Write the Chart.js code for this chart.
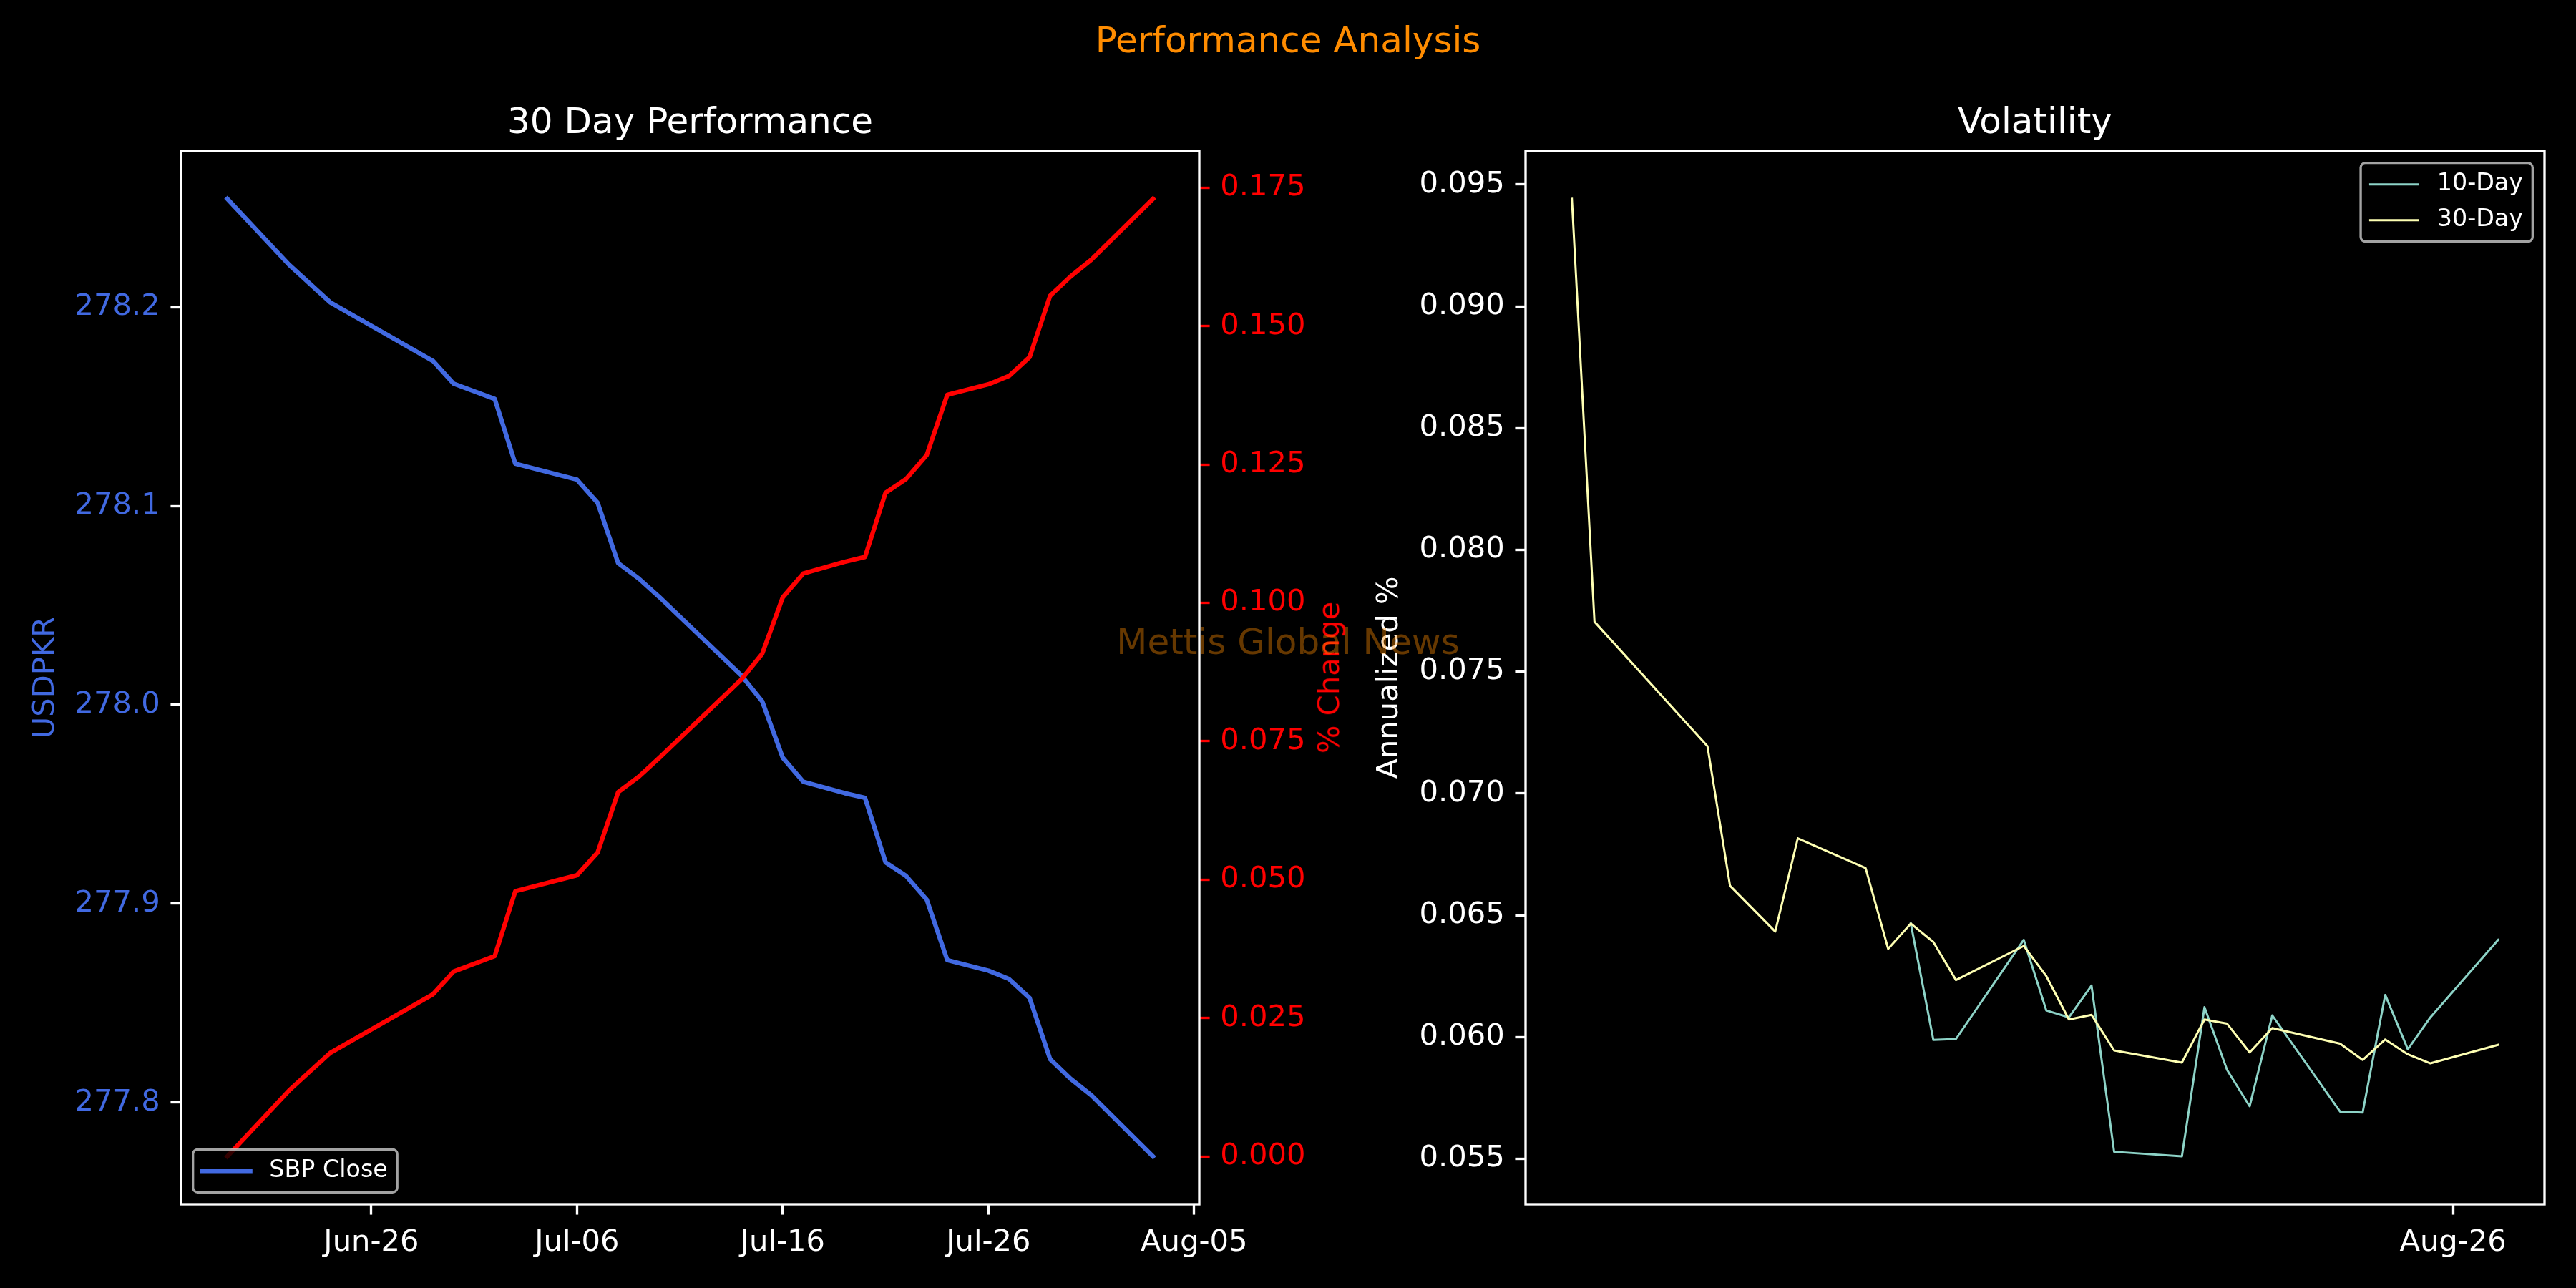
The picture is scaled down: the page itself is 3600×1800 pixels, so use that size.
<!DOCTYPE html>
<html>
<head>
<meta charset="utf-8">
<title>Performance Analysis</title>
<script src="https://cdn.jsdelivr.net/npm/chart.js@4.4.1/dist/chart.umd.min.js"></script>
<style>
  html, body { margin: 0; padding: 0; background: #000; }
  body { width: 3600px; height: 1800px; position: relative; overflow: hidden; font-family: 'DejaVu Sans', sans-serif; }
  canvas { position: absolute; top: 0; }
  #perf { left: 0; }
  #vol { left: 1878px; }
  .txt { position: absolute; white-space: nowrap; line-height: 1; }
  #suptitle { left: 0; width: 3600px; text-align: center; top: 31px; font-size: 50px; color: #ff8c00; }
  #pctLabel { left: 1857px; top: 947px; font-size: 41.67px; color: #ff0000; transform: translate(-50%, -50%) rotate(-90deg); }
  #watermark { left: 0; width: 3600px; text-align: center; top: 872px; font-size: 50px; color: rgba(255, 140, 0, 0.4); }
</style>
</head>
<body>
<canvas id="perf" width="1850" height="1800"></canvas>
<canvas id="vol" width="1722" height="1800"></canvas>
<div class="txt" id="pctLabel">% Change</div>
<div class="txt" id="suptitle">Performance Analysis</div>
<div class="txt" id="watermark">Mettis Global News</div>

<script>
// --- 30 day performance data ---
const perfDates = ['2024-06-19', '2024-06-22', '2024-06-24', '2024-06-29', '2024-06-30', '2024-07-02',
  '2024-07-03', '2024-07-06', '2024-07-07', '2024-07-08', '2024-07-09', '2024-07-10', '2024-07-14',
  '2024-07-15', '2024-07-16', '2024-07-17', '2024-07-19', '2024-07-20', '2024-07-21', '2024-07-22',
  '2024-07-23', '2024-07-24', '2024-07-26', '2024-07-27', '2024-07-28', '2024-07-29', '2024-07-30',
  '2024-07-31', '2024-08-03'];
const sbpClose = [278.2544, 278.2213, 278.2024, 278.1729, 278.1615, 278.1538, 278.1212, 278.1132,
  278.1016, 278.0712, 278.0635, 278.0542, 278.0146, 278.0018, 277.9734, 277.9613, 277.9556, 277.9532,
  277.9208, 277.9139, 277.9020, 277.8716, 277.8663, 277.8621, 277.8526, 277.8218, 277.8119, 277.8037,
  277.7729];
const pctChange = [0.0000, 0.0119, 0.0187, 0.0293, 0.0334, 0.0362, 0.0479, 0.0508, 0.0549, 0.0658,
  0.0686, 0.0720, 0.0862, 0.0908, 0.1010, 0.1053, 0.1074, 0.1083, 0.1199, 0.1224, 0.1267, 0.1376,
  0.1395, 0.1410, 0.1444, 0.1555, 0.1590, 0.1620, 0.1730];
const perfTickDates = ['2024-06-26', '2024-07-06', '2024-07-16', '2024-07-26', '2024-08-05'];
const perfTickLabels = ['Jun-26', 'Jul-06', 'Jul-16', 'Jul-26', 'Aug-05'];
const closeTicks = [277.8, 277.9, 278.0, 278.1, 278.2];
const pctTicks = [0, 0.025, 0.05, 0.075, 0.1, 0.125, 0.15, 0.175];

// --- volatility data ---
const volDates = ['2024-07-18', '2024-07-19', '2024-07-24', '2024-07-25', '2024-07-27', '2024-07-28',
  '2024-07-31', '2024-08-01', '2024-08-02', '2024-08-03', '2024-08-04', '2024-08-07', '2024-08-08',
  '2024-08-09', '2024-08-10', '2024-08-11', '2024-08-14', '2024-08-15', '2024-08-16', '2024-08-17',
  '2024-08-18', '2024-08-21', '2024-08-22', '2024-08-23', '2024-08-24', '2024-08-25', '2024-08-28'];
const vol10 = [null, null, null, null, null, null, null, null, 0.06466, 0.05988, 0.05992, 0.06399,
  0.06109, 0.06081, 0.06211, 0.05529, 0.05510, 0.06123, 0.05865, 0.05716, 0.06089, 0.05694, 0.05690,
  0.06173, 0.05950, 0.06081, 0.06399];
const vol30 = [0.09441, 0.07705, 0.07194, 0.06621, 0.06433, 0.06816, 0.06694, 0.06362, 0.06466,
  0.06390, 0.06234, 0.06374, 0.06250, 0.06072, 0.06091, 0.05945, 0.05895, 0.06072, 0.06055, 0.05937,
  0.06037, 0.05973, 0.05906, 0.05990, 0.05929, 0.05892, 0.05968];
const volTickDates = ['2024-08-26'];
const volTickLabels = ['Aug-26'];
const volTicks = [0.055, 0.06, 0.065, 0.07, 0.075, 0.08, 0.085, 0.09, 0.095];

// sizes in px (figure is 300 dpi, so 1pt = 300/72 px)
const PT = 300 / 72;
const TICK_FONT = 10 * PT;
const TICK_LEN = 3.5 * PT;
const TICK_W = 0.8 * PT;

Chart.defaults.font.family = "'DejaVu Sans', sans-serif";
Chart.defaults.color = '#ffffff';

function daysFrom(start, dates) {
  const t0 = Date.parse(start);
  return dates.map(d => (Date.parse(d) - t0) / 864e5);
}
function padRange(vals) {
  const v = vals.filter(x => x !== null);
  const lo = Math.min(...v), hi = Math.max(...v), m = (hi - lo) * 0.05;
  return { min: lo - m, max: hi + m };
}
function toPoints(xs, ys) {
  return xs.map((x, i) => ({ x: x, y: ys[i] }));
}

// white box round the plot area
const frame = {
  id: 'frame',
  afterDatasetsDraw(chart) {
    const { ctx, chartArea: a } = chart;
    ctx.save();
    ctx.strokeStyle = '#ffffff';
    ctx.lineWidth = TICK_W;
    ctx.strokeRect(a.left, a.top, a.right - a.left, a.bottom - a.top);
    ctx.restore();
  }
};

// title centred over the plot area
const axesTitle = {
  id: 'axesTitle',
  afterDraw(chart, args, opts) {
    const { ctx, chartArea: a } = chart;
    ctx.save();
    ctx.font = (12 * PT) + "px 'DejaVu Sans'";
    ctx.fillStyle = '#ffffff';
    ctx.textAlign = 'center';
    ctx.textBaseline = 'alphabetic';
    ctx.fillText(opts.text, (a.left + a.right) / 2, a.top - 6 * PT);
    ctx.restore();
  }
};

// legend box inside the plot area
const boxLegend = {
  id: 'boxLegend',
  afterDraw(chart, args, opts) {
    const { ctx, chartArea: a } = chart;
    const fs = 8 * PT, pad = 0.4 * fs, hl = 2 * fs, gap = 0.8 * fs, sp = 0.5 * fs, off = 0.5 * fs;
    const items = chart.data.datasets.filter(d => d.inLegend);
    ctx.save();
    ctx.font = fs + "px 'DejaVu Sans'";
    const tw = Math.max(...items.map(d => ctx.measureText(d.label).width));
    const w = 2 * pad + hl + gap + tw;
    const h = 2 * pad + items.length * fs + (items.length - 1) * sp;
    let x, y;
    if (opts.corner === 'lower left') { x = a.left + off; y = a.bottom - off - h; }
    else { x = a.right - off - w; y = a.top + off; }
    ctx.beginPath();
    ctx.roundRect(x, y, w, h, 0.2 * fs);
    ctx.fillStyle = 'rgba(0,0,0,0.8)';
    ctx.fill();
    ctx.lineWidth = TICK_W;
    ctx.strokeStyle = 'rgba(204,204,204,0.8)';
    ctx.stroke();
    items.forEach((d, i) => {
      const cy = y + pad + fs / 2 + i * (fs + sp);
      ctx.beginPath();
      ctx.moveTo(x + pad, cy);
      ctx.lineTo(x + pad + hl, cy);
      ctx.lineWidth = d.borderWidth;
      ctx.strokeStyle = d.borderColor;
      ctx.lineCap = 'square';
      ctx.stroke();
      ctx.fillStyle = '#ffffff';
      ctx.textAlign = 'left';
      ctx.textBaseline = 'middle';
      ctx.fillText(d.label, x + pad + hl + gap, cy);
    });
    ctx.restore();
  }
};

function tickAxis(color, tickColor) {
  return {
    grid: { display: true, drawOnChartArea: false, drawTicks: true, tickLength: TICK_LEN, tickWidth: TICK_W, tickColor: tickColor },
    border: { display: false },
    ticks: { color: color, font: { size: TICK_FONT }, padding: TICK_LEN, autoSkip: false, maxRotation: 0 }
  };
}
function fixedTicks(values) {
  return scale => { scale.ticks = values.map(v => ({ value: v })); };
}

// ---------- 30 day performance ----------
const perfX = daysFrom(perfDates[0], perfDates);
const perfXTicks = daysFrom(perfDates[0], perfTickDates);
const perfXRange = padRange(perfX);
const closeRange = padRange(sbpClose);
const pctRange = padRange(pctChange);

const xPerf = tickAxis('#ffffff', '#ffffff');
const yClose = tickAxis('#4169e1', '#ffffff');
const yPct = tickAxis('#ff0000', '#ff0000');

new Chart(document.getElementById('perf'), {
  type: 'line',
  data: {
    datasets: [
      { label: 'SBP Close', data: toPoints(perfX, sbpClose), yAxisID: 'y', borderColor: '#4169e1',
        borderWidth: 1.5 * PT, order: 1, inLegend: true },
      { label: '% Change', data: toPoints(perfX, pctChange), yAxisID: 'y1', borderColor: '#ff0000',
        borderWidth: 1.5 * PT, order: 0, inLegend: false }
    ]
  },
  options: {
    responsive: false, animation: false, devicePixelRatio: 1, events: [],
    layout: { padding: { top: 211, left: 0, right: 0, bottom: 0 } },
    elements: { point: { radius: 0 }, line: { tension: 0, borderJoinStyle: 'round', borderCapStyle: 'square' } },
    plugins: { legend: { display: false }, tooltip: { enabled: false },
      axesTitle: { text: '30 Day Performance' }, boxLegend: { corner: 'lower left' } },
    scales: {
      x: Object.assign(xPerf, {
        type: 'linear', min: perfXRange.min, max: perfXRange.max,
        afterBuildTicks: fixedTicks(perfXTicks),
        afterFit: s => { s.height = 1800 - 1683; },
        ticks: Object.assign(xPerf.ticks, { callback: (v, i) => perfTickLabels[i] })
      }),
      y: Object.assign(yClose, {
        type: 'linear', position: 'left', min: closeRange.min, max: closeRange.max,
        afterBuildTicks: fixedTicks(closeTicks),
        afterFit: s => { s.width = 253; },
        ticks: Object.assign(yClose.ticks, { callback: v => v.toFixed(1) }),
        title: { display: true, text: 'USDPKR', color: '#4169e1', font: { size: TICK_FONT }, padding: { top: 39, bottom: 0 } }
      }),
      y1: Object.assign(yPct, {
        type: 'linear', position: 'right', min: pctRange.min, max: pctRange.max,
        afterBuildTicks: fixedTicks(pctTicks),
        afterFit: s => { s.width = 1850 - 1676; },
        ticks: Object.assign(yPct.ticks, { callback: v => v.toFixed(3) })
      })
    }
  },
  plugins: [frame, axesTitle, boxLegend]
});

// ---------- volatility ----------
const volX = daysFrom(volDates[0], volDates);
const volXTicks = daysFrom(volDates[0], volTickDates);
const volXRange = padRange(volX);
const volRange = padRange(vol10.concat(vol30));

const xVol = tickAxis('#ffffff', '#ffffff');
const yVol = tickAxis('#ffffff', '#ffffff');

new Chart(document.getElementById('vol'), {
  type: 'line',
  data: {
    datasets: [
      { label: '10-Day', data: toPoints(volX, vol10), borderColor: '#8dd3c7', borderWidth: 3, order: 1, inLegend: true },
      { label: '30-Day', data: toPoints(volX, vol30), borderColor: '#feffb3', borderWidth: 3, order: 0, inLegend: true }
    ]
  },
  options: {
    responsive: false, animation: false, devicePixelRatio: 1, events: [],
    layout: { padding: { top: 211, left: 0, right: 3600 - 3556, bottom: 0 } },
    elements: { point: { radius: 0 }, line: { tension: 0, borderJoinStyle: 'round', borderCapStyle: 'square' } },
    plugins: { legend: { display: false }, tooltip: { enabled: false },
      axesTitle: { text: 'Volatility' }, boxLegend: { corner: 'upper right' } },
    scales: {
      x: Object.assign(xVol, {
        type: 'linear', min: volXRange.min, max: volXRange.max,
        afterBuildTicks: fixedTicks(volXTicks),
        afterFit: s => { s.height = 1800 - 1683; },
        ticks: Object.assign(xVol.ticks, { callback: (v, i) => volTickLabels[i] })
      }),
      y: Object.assign(yVol, {
        type: 'linear', position: 'left', min: volRange.min, max: volRange.max,
        afterBuildTicks: fixedTicks(volTicks),
        afterFit: s => { s.width = 254; },
        ticks: Object.assign(yVol.ticks, { callback: v => v.toFixed(3) }),
        title: { display: true, text: 'Annualized %', color: '#ffffff', font: { size: TICK_FONT }, padding: { top: 39, bottom: 0 } }
      })
    }
  },
  plugins: [frame, axesTitle, boxLegend]
});
</script>
</body>
</html>
